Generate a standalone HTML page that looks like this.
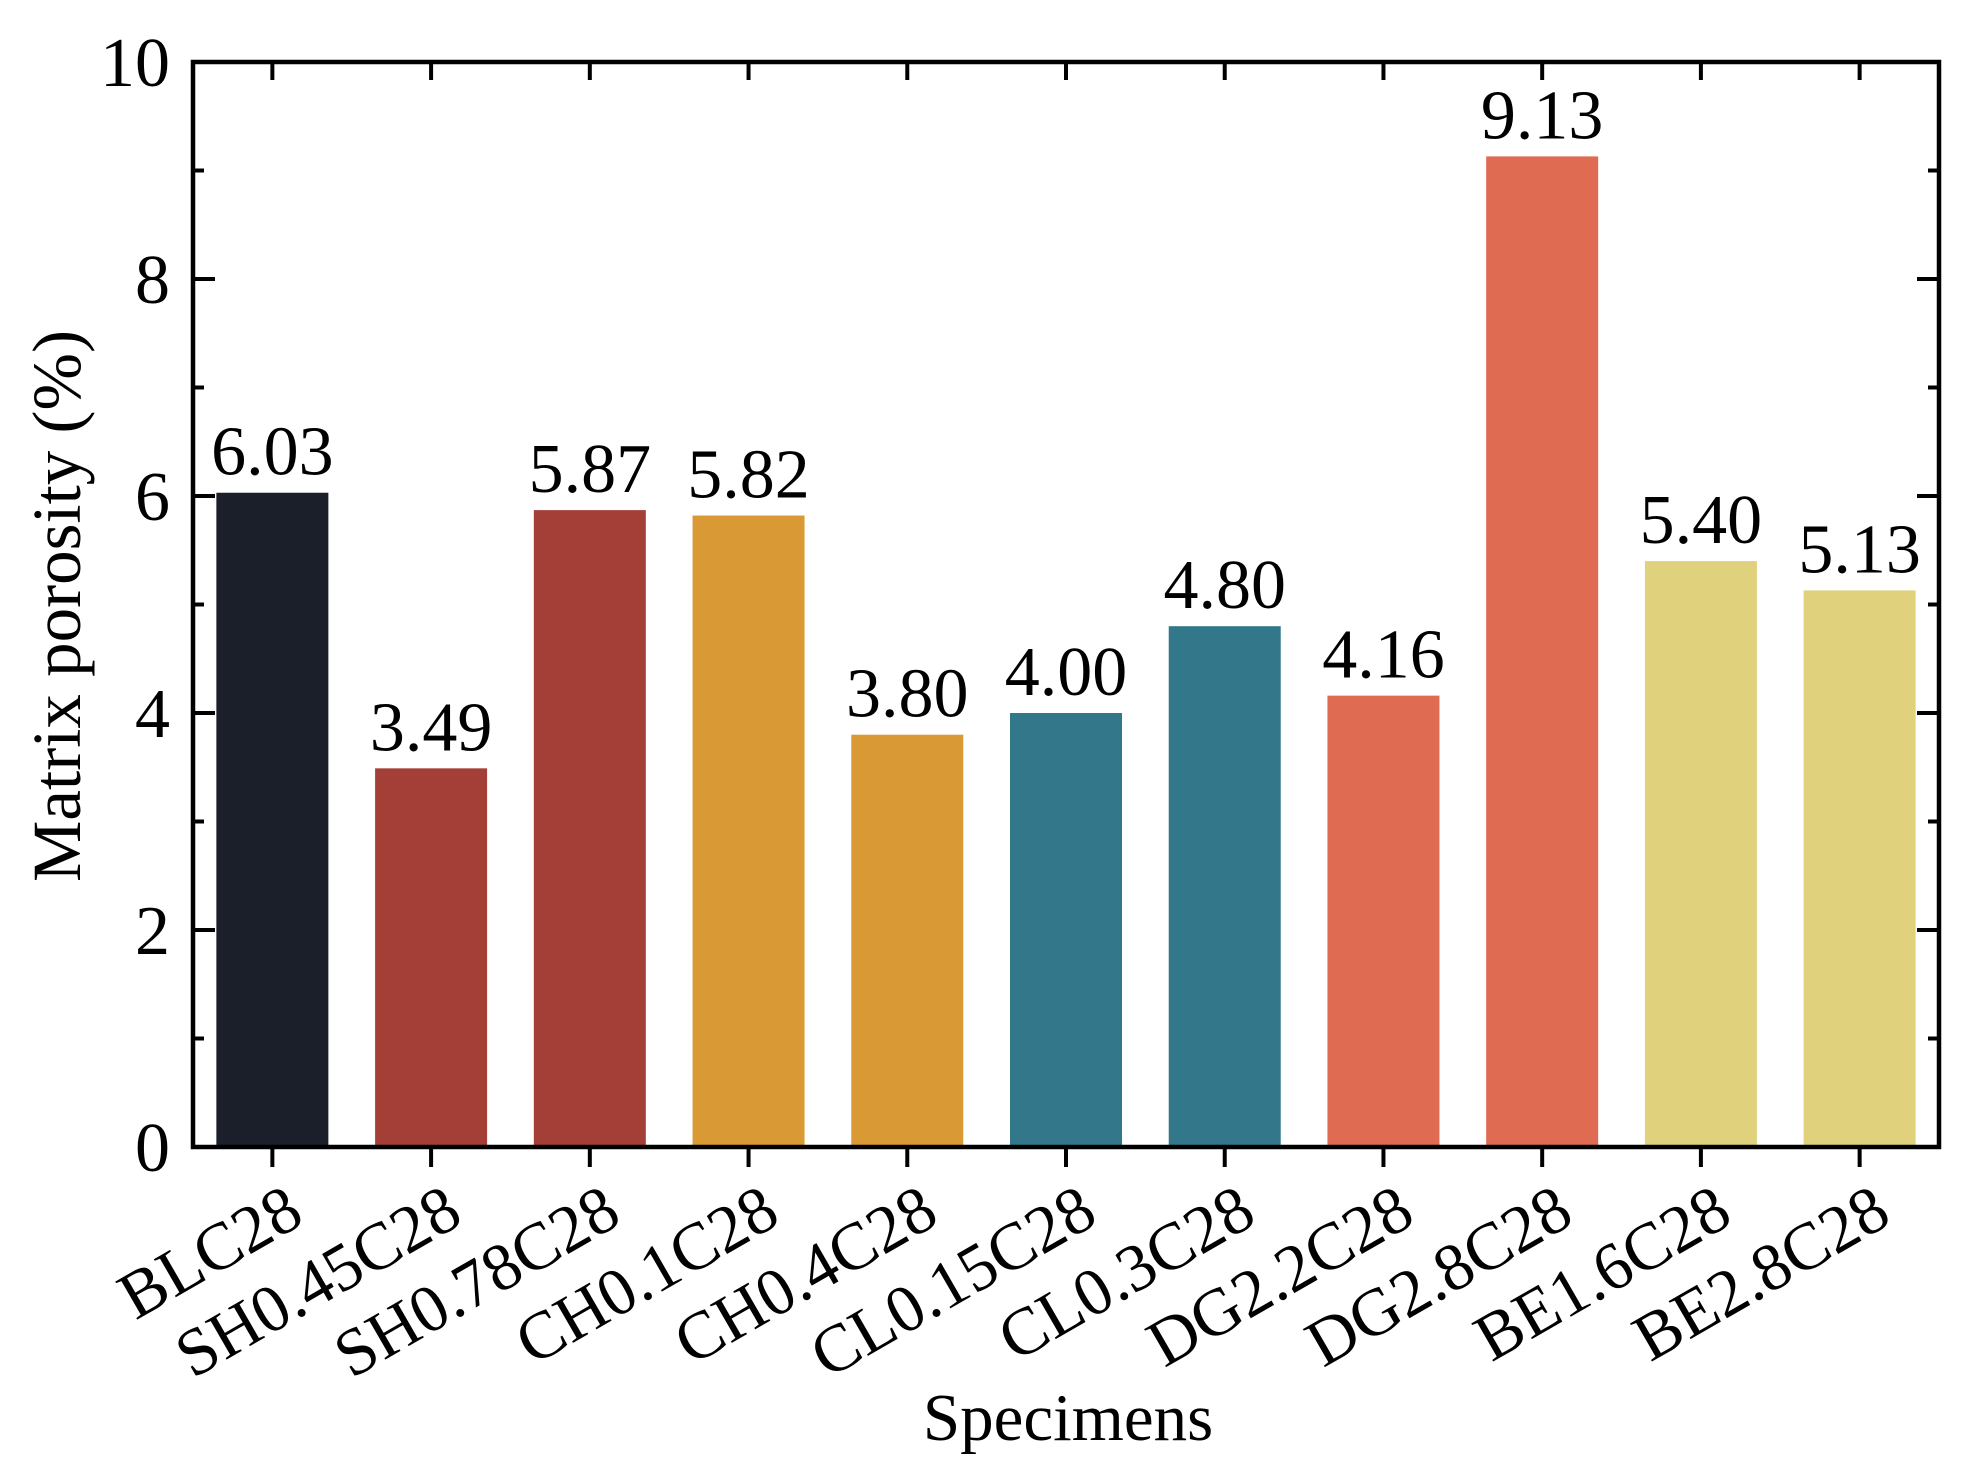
<!DOCTYPE html>
<html><head><meta charset="utf-8"><style>
html,body{margin:0;padding:0;background:#fff;}
svg{display:block;font-family:"Liberation Serif","Times New Roman",serif;}
</style></head><body>
<svg id="chart" width="1970" height="1479" viewBox="0 0 1970 1479" xmlns="http://www.w3.org/2000/svg">
<g id="bars"></g>
<g id="labels"></g>
<g id="axes"></g>
<text x="1068" y="1440" font-size="67" text-anchor="middle">Specimens</text>
<text transform="translate(80,606) rotate(-90)" font-size="69" text-anchor="middle">Matrix porosity (%)</text>
</svg>
<script>
const categories = ["BLC28","SH0.45C28","SH0.78C28","CH0.1C28","CH0.4C28","CL0.15C28","CL0.3C28","DG2.2C28","DG2.8C28","BE1.6C28","BE2.8C28"];
const values = [6.03,3.49,5.87,5.82,3.80,4.00,4.80,4.16,9.13,5.40,5.13];
const valueLabels = ["6.03","3.49","5.87","5.82","3.80","4.00","4.80","4.16","9.13","5.40","5.13"];
const colors = ["#1a1f29","#a43f38","#a43f38","#d99a35","#d99a35","#33788a","#33788a","#de6b52","#de6b52","#e0d27c","#e0d27c"];
const yTicks = [0,2,4,6,8,10];
const yMinor = [1,3,5,7,9];

const NS="http://www.w3.org/2000/svg";
const L=193,R=1939,T=62,B=1147;
const yMax=10;
function y(v){return B-(v/yMax)*(B-T);}
const pitch=(R-L)/categories.length;
function xc(i){return L+pitch*(i+0.5);}
const bw=112;
function mk(tag,attrs,parent){const e=document.createElementNS(NS,tag);for(const k in attrs)e.setAttribute(k,attrs[k]);parent.appendChild(e);return e;}
const gb=document.getElementById('bars'),gl=document.getElementById('labels'),ga=document.getElementById('axes');
categories.forEach((c,i)=>{
  const r=mk('rect',{x:xc(i)-bw/2,y:y(values[i]),width:bw,height:B-y(values[i]),fill:colors[i]},gb);
  
  
  const t=mk('text',{x:xc(i),y:y(values[i])-18,'font-size':70,'text-anchor':'middle'},gl);
  t.textContent=valueLabels[i];
  
  
  const tk=mk('line',{x1:xc(i),x2:xc(i),y1:B,y2:B+20,stroke:'#000','stroke-width':4},ga);
  
  
  const tt=mk('line',{x1:xc(i),x2:xc(i),y1:T,y2:T+18,stroke:'#000','stroke-width':4},ga);
  
  
  const xl=mk('text',{'font-size':67,'text-anchor':'end',transform:'translate('+(xc(i)+34)+',1222) rotate(-30)'},ga);
  xl.textContent=c;
  
  
});
yTicks.forEach(v=>{
  const a=mk('line',{x1:L,x2:L+22,y1:y(v),y2:y(v),stroke:'#000','stroke-width':4},ga);
  
  
  const b=mk('line',{x1:R-22,x2:R,y1:y(v),y2:y(v),stroke:'#000','stroke-width':4},ga);
  
  
  const t=mk('text',{x:170,y:y(v)+24,'font-size':70,'text-anchor':'end'},ga);
  t.textContent=String(v);
  
  
});
yMinor.forEach(v=>{
  const a=mk('line',{x1:L,x2:L+11,y1:y(v),y2:y(v),stroke:'#000','stroke-width':4},ga);
  
  
  const b=mk('line',{x1:R-11,x2:R,y1:y(v),y2:y(v),stroke:'#000','stroke-width':4},ga);
  
  
});
const fr=mk('rect',{x:L,y:T,width:R-L,height:B-T,fill:'none',stroke:'#000','stroke-width':4.5},ga);


</script>
</body></html>
